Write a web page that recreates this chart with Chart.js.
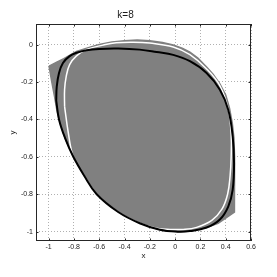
<!DOCTYPE html>
<html>
<head>
<meta charset="utf-8">
<script src="https://cdn.jsdelivr.net/npm/chart.js@4.4.0/dist/chart.umd.min.js"></script>
<style>
  html, body { margin: 0; padding: 0; background: #fff; }
  #wrap { width: 277px; height: 277px; }
</style>
</head>
<body>
<div id="wrap"><canvas id="grafica" width="277" height="277"></canvas></div>
<script>
// Marcas de los ejes
const xTicks = [-1, -0.8, -0.6, -0.4, -0.2, 0, 0.2, 0.4, 0.6];
const yTicks = [-1, -0.8, -0.6, -0.4, -0.2, 0];

// Región gris (polígono)
const grayX = [-0.997, -0.94, -0.88, -0.78, -0.68, -0.60, -0.50, -0.40, -0.30, -0.20, -0.10, -0.015, 0.06, 0.117, 0.18, 0.249, 0.30, 0.354, 0.40, 0.43, 0.452, 0.465, 0.47, 0.47, 0.468, 0.34, 0.249, 0.117, 0.02, -0.12, -0.28, -0.45, -0.62, -0.72, -0.805, -0.87, -0.918, -0.935, -0.953, -0.975, -0.997];
const grayY = [-0.115, -0.095, -0.075, -0.037, -0.015, 0.0, 0.014, 0.021, 0.024, 0.02, 0.011, -0.002, -0.02, -0.04, -0.072, -0.12, -0.158, -0.21, -0.27, -0.34, -0.42, -0.50, -0.60, -0.75, -0.895, -0.955, -0.978, -0.997, -1.0, -0.99, -0.955, -0.895, -0.80, -0.70, -0.60, -0.50, -0.40, -0.35, -0.28, -0.20, -0.115];

// Curva blanca
const whiteX = [-0.874, -0.874, -0.861, -0.834, -0.782, -0.703, -0.571, -0.466, -0.33, -0.20, -0.015, 0.117, 0.249, 0.354, 0.42, 0.443, 0.443, 0.435, 0.415, 0.37, 0.29, 0.17, 0.065, -0.041, -0.15, -0.28, -0.45, -0.62, -0.72, -0.805, -0.845, -0.874];
const whiteY = [-0.33, -0.241, -0.17, -0.107, -0.062, -0.027, -0.003, 0.010, 0.013, 0.008, -0.0125, -0.054, -0.130, -0.22, -0.345, -0.48, -0.60, -0.70, -0.80, -0.88, -0.94, -0.977, -0.988, -0.988, -0.982, -0.955, -0.895, -0.80, -0.70, -0.60, -0.47, -0.33];

// Curva negra
const blackX = [-0.94, -0.936, -0.918, -0.887, -0.834, -0.78, -0.70, -0.60, -0.45, -0.28, -0.146, -0.015, 0.117, 0.249, 0.354, 0.42, 0.455, 0.466, 0.455, 0.42, 0.354, 0.249, 0.117, 0.02, -0.12, -0.28, -0.45, -0.62, -0.72, -0.805, -0.87, -0.918, -0.94];
const blackY = [-0.30, -0.225, -0.152, -0.098, -0.062, -0.044, -0.030, -0.023, -0.021, -0.027, -0.040, -0.055, -0.089, -0.152, -0.241, -0.348, -0.49, -0.634, -0.777, -0.866, -0.935, -0.978, -0.997, -1.0, -0.99, -0.955, -0.895, -0.80, -0.70, -0.60, -0.50, -0.40, -0.30];

function puntos(xs, ys) {
    return xs.map((x, i) => ({ x: x, y: ys[i] }));
}

const fuente = "'Liberation Sans', Arial, Helvetica, sans-serif";

// Marco de la gráfica con marcas interiores
const marco = {
    id: 'marco',
    afterDraw(chart) {
        const ctx = chart.ctx;
        const a = chart.chartArea;
        const sx = chart.scales.x;
        const sy = chart.scales.y;
        ctx.save();
        ctx.strokeStyle = '#262626';
        ctx.lineWidth = 1;
        ctx.strokeRect(a.left + 0.5, a.top + 0.5, a.right - a.left - 1, a.bottom - a.top - 1);
        ctx.beginPath();
        xTicks.forEach(v => {
            const px = Math.round(sx.getPixelForValue(v)) + 0.5;
            ctx.moveTo(px, a.bottom); ctx.lineTo(px, a.bottom - 2.5);
            ctx.moveTo(px, a.top); ctx.lineTo(px, a.top + 2.5);
        });
        yTicks.forEach(v => {
            const py = Math.round(sy.getPixelForValue(v)) + 0.5;
            ctx.moveTo(a.left, py); ctx.lineTo(a.left + 2.5, py);
            ctx.moveTo(a.right, py); ctx.lineTo(a.right - 2.5, py);
        });
        ctx.stroke();
        ctx.restore();
    }
};

function crearGrafica() {
    const ctx = document.getElementById('grafica').getContext('2d');
    new Chart(ctx, {
        type: 'scatter',
        data: {
            datasets: [
                {
                    data: puntos(blackX, blackY),
                    showLine: true,
                    borderColor: '#000000',
                    borderWidth: 2,
                    pointRadius: 0,
                    tension: 0.4,
                    fill: false
                },
                {
                    data: puntos(whiteX, whiteY),
                    showLine: true,
                    borderColor: '#ffffff',
                    borderWidth: 1.5,
                    pointRadius: 0,
                    tension: 0.4,
                    fill: false
                },
                {
                    data: puntos(grayX, grayY),
                    showLine: true,
                    borderColor: '#808080',
                    backgroundColor: '#808080',
                    borderWidth: 1.5,
                    pointRadius: 0,
                    tension: 0,
                    fill: 'shape'
                }
            ]
        },
        options: {
            responsive: false,
            animation: false,
            layout: { padding: { left: 0, right: 26, top: 0, bottom: 0 } },
            plugins: {
                legend: { display: false },
                tooltip: { enabled: false },
                title: {
                    display: true,
                    text: 'k=8',
                    color: '#1a1a1a',
                    font: { family: fuente, size: 10, weight: 'normal' },
                    padding: { top: 9, bottom: 3 }
                }
            },
            scales: {
                x: {
                    type: 'linear',
                    min: -1.1,
                    max: 0.6,
                    afterBuildTicks: s => { s.ticks = xTicks.map(v => ({ value: v })); },
                    afterFit: s => { s.height = 36; },
                    ticks: {
                        padding: 2,
                        color: '#1a1a1a',
                        font: { family: fuente, size: 7 },
                        maxRotation: 0,
                        callback: v => String(v)
                    },
                    grid: { color: '#b0b0b0', lineWidth: 1, drawTicks: false },
                    border: { display: false, dash: [1, 2] },
                    title: {
                        display: true,
                        text: 'x',
                        color: '#1a1a1a',
                        font: { family: fuente, size: 8 },
                        padding: { top: 0, bottom: 16 }
                    }
                },
                y: {
                    type: 'linear',
                    min: -1.05,
                    max: 0.11,
                    afterBuildTicks: s => { s.ticks = yTicks.map(v => ({ value: v })); },
                    afterFit: s => { s.width = 36; },
                    ticks: {
                        padding: 3,
                        color: '#1a1a1a',
                        font: { family: fuente, size: 7 },
                        callback: v => String(v)
                    },
                    grid: { color: '#b0b0b0', lineWidth: 1, drawTicks: false },
                    border: { display: false, dash: [1, 2] },
                    title: {
                        display: true,
                        text: 'y',
                        color: '#1a1a1a',
                        font: { family: fuente, size: 8 },
                        padding: { top: 8, bottom: 0 }
                    }
                }
            }
        },
        plugins: [marco]
    });
}

document.addEventListener('DOMContentLoaded', () => {
    crearGrafica();
});
</script>
</body>
</html>
